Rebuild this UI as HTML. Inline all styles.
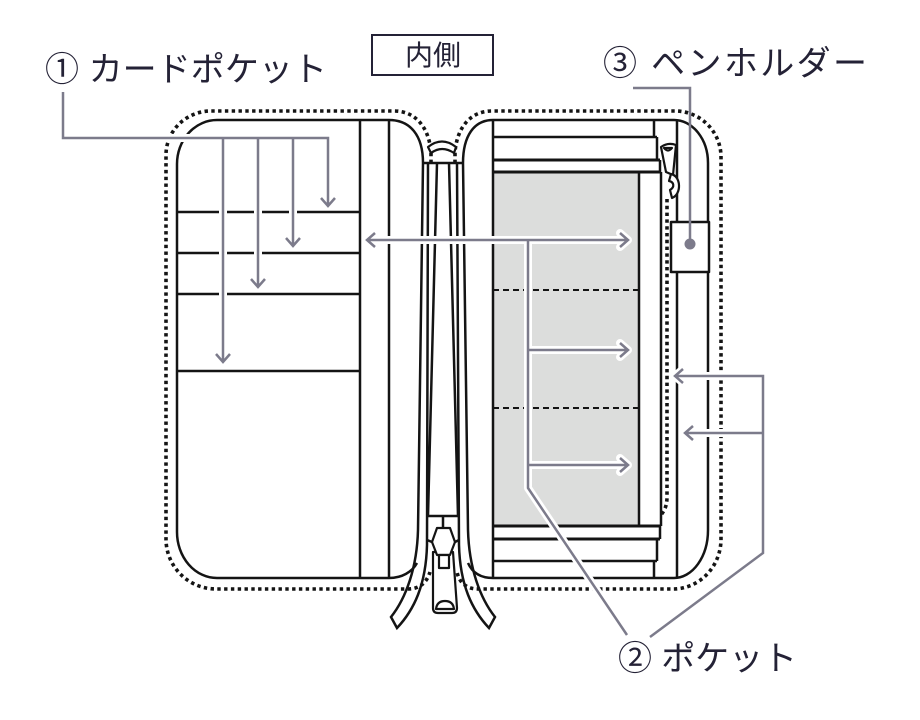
<!DOCTYPE html>
<html>
<head>
<meta charset="utf-8">
<style>
html,body{margin:0;padding:0;background:#fff;}
svg{display:block;}
text{font-family:"Liberation Sans","Noto Sans CJK JP",sans-serif;fill:#242236;}
</style>
</head>
<body>
<svg width="920" height="720" viewBox="0 0 920 720" xmlns="http://www.w3.org/2000/svg">
  <rect width="920" height="720" fill="#fff"/>

  <!-- Titles -->
  <text x="45" y="81" font-size="34" textLength="282" lengthAdjust="spacing">① カードポケット</text>
  <rect x="372" y="35" width="121" height="40" fill="none" stroke="#242236" stroke-width="2"/>
  <text x="433" y="65" font-size="28" text-anchor="middle">内側</text>
  <text x="603" y="75" font-size="34" textLength="264" lengthAdjust="spacing">③ ペンホルダー</text>
  <text x="618" y="670" font-size="34" textLength="179" lengthAdjust="spacing">② ポケット</text>

  <!-- gray pocket -->
  <rect x="493" y="172" width="146" height="354" fill="#dcdddc"/>

  <!-- dotted outer outlines -->
  <g fill="none" stroke="#141414" stroke-width="3.6" stroke-dasharray="3.4 3.4">
    <path d="M431 163L431 152C429 128 416 111 394 111L211 111A45 44 0 0 0 166 155L166 539A50 50 0 0 0 216 589L408 589C420 589 427 582 430 572"/>
    <path d="M455 163L455 152C457 128 470 111 492 111L675 111A46 46 0 0 1 721 157L721 539A48 50 0 0 1 673 589L478 589C466 589 459 582 457 572"/>
    <path d="M667 199V497C667 508 663 512 661 515"/>
  </g>

  <!-- main black lines -->
  <g fill="none" stroke="#141414" stroke-width="2.5">
    <!-- left panel -->
    <path d="M423 163C423 135 410 120 389 120L217 120A40 44 0 0 0 177 164L177 532A40 46 0 0 0 217 578L389 578C402 578 412 572 417 563"/>
    <path d="M360 120V578M389 120V578"/>
    <path d="M177 212H360M177 253H360M177 294H360M177 371H360"/>
    <!-- right panel -->
    <path d="M463 163C463 136 474 120 493 120L674 120A34 43 0 0 1 708 163L708 530A34 48 0 0 1 674 578L493 578C480 578 472 572 468 563"/>
    <path d="M493 120V578M677 120V578"/>
    <path d="M654 120V137M493 137H657M657 137V160M660 160V172"/>
    <path d="M639 172V526M661 172V526"/>
    <path d="M660 526V539M657 539V561M493 561H657M654 561V578"/>
    <!-- zipper -->
    <path d="M423 163H463"/>
    <path d="M423 163L418 530C417 568 406 598 391 617L397 628C414 610 426 585 427 545L428 163"/>
    <path d="M463 163L468 530C469 568 480 598 495 617L489 628C472 610 460 585 459 545L457 163"/>
    <path d="M437 163L428 516M449 163L458 516"/>
    <path d="M427 516H459M443 516V528"/>
    <path d="M427 540L432 542M459 540L455 542"/>
  </g>
  <g fill="none" stroke="#141414" stroke-width="3">
    <path d="M493 160H660M493 172H661M493 526H661M493 539H660"/>
  </g>
  <!-- dashed pocket dividers -->
  <g fill="none" stroke="#141414" stroke-width="2" stroke-dasharray="6 4">
    <path d="M493 290H639M493 408H639"/>
  </g>

  <!-- zipper parts -->
  <g fill="#fff" stroke="#141414" stroke-width="2.2" stroke-linejoin="round">
    <path d="M428 147Q442 136 456 147L454 153Q442 145 431 153Z"/>
    <path d="M433 552L453 552L457 608Q457 613 452 613L438 613Q433 613 433 608Z"/>
    <path d="M436 609Q437 601 445 601Q453 601 454 609Z"/>
    <path d="M437 528L450 528L455 542L450 555L437 555L432 542Z"/>
    <rect x="439" y="555" width="10" height="13"/>
    <!-- right zipper pull -->
    <path d="M661 147Q668 142 676 145L673 175L666 172Z"/>
    <path d="M664 148Q668 153 672 148Z"/>
    <path d="M671 174C681 176 682 194 672 198L670 190C675 187 674 182 669 181Z"/>
    <!-- pen holder -->
    <rect x="671" y="222" width="38" height="50" stroke-width="2.5"/>
  </g>

  <!-- gray leaders with white halo -->
  <g fill="none" stroke="#fff" stroke-width="8" stroke-linecap="round" stroke-linejoin="round">
    <path d="M63 92V138H328V206M293 138V246M258 138V287M223 138V362M321 198L328 206L335 198M286 238L293 246L300 238M251 279L258 287L265 279M216 354L223 362L230 354"/>
    <path d="M367 240H628M375 233L367 240L375 247M620 233L628 240L620 247M528 240V488L627 635M528 350H628M620 343L628 350L620 357M528 465H628M620 458L628 465L620 472"/>
    <path d="M650 637L763 553V376H675M683 369L675 376L683 383M763 433H685M693 426L685 433L693 440"/>
  </g>
  <g fill="none" stroke="#7c7b8b" stroke-width="2.5" stroke-linejoin="miter">
    <path d="M63 92V138H328V206M293 138V246M258 138V287M223 138V362M321 198L328 206L335 198M286 238L293 246L300 238M251 279L258 287L265 279M216 354L223 362L230 354"/>
    <path d="M367 240H628M375 233L367 240L375 247M620 233L628 240L620 247M528 240V488L627 635M528 350H628M620 343L628 350L620 357M528 465H628M620 458L628 465L620 472"/>
    <path d="M650 637L763 553V376H675M683 369L675 376L683 383M763 433H685M693 426L685 433L693 440"/>
    <path d="M633 88H690V244"/>
  </g>
  <circle cx="690" cy="244" r="5.5" fill="#7c7b8b"/>
</svg>
</body>
</html>
